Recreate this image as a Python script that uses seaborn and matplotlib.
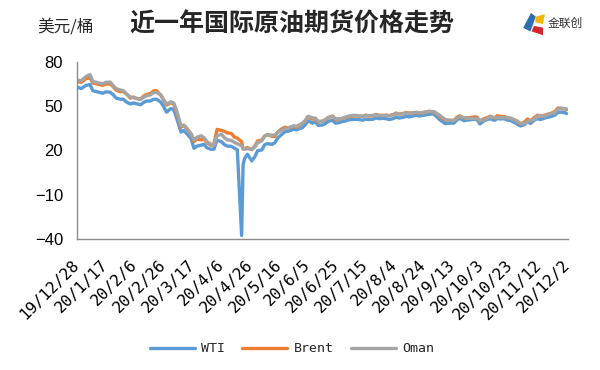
import matplotlib
matplotlib.use("Agg")
import matplotlib.pyplot as plt
from matplotlib.patches import Polygon
import numpy as np
import pandas as pd
import seaborn as sns

# ---------------- data ----------------
dates = [
    "2019-12-28", "2019-12-31", "2020-01-03", "2020-01-06", "2020-01-08", "2020-01-10",
    "2020-01-13", "2020-01-15", "2020-01-17", "2020-01-20", "2020-01-22", "2020-01-24",
    "2020-01-27", "2020-01-29", "2020-01-31", "2020-02-03", "2020-02-05", "2020-02-07",
    "2020-02-10", "2020-02-12", "2020-02-14", "2020-02-17", "2020-02-19", "2020-02-21",
    "2020-02-24", "2020-02-26", "2020-02-28", "2020-03-02", "2020-03-04", "2020-03-06",
    "2020-03-09", "2020-03-11", "2020-03-13", "2020-03-16", "2020-03-18", "2020-03-20",
    "2020-03-23", "2020-03-25", "2020-03-27", "2020-03-30", "2020-04-01", "2020-04-02",
    "2020-04-03", "2020-04-06", "2020-04-08", "2020-04-10", "2020-04-13", "2020-04-15",
    "2020-04-17", "2020-04-20", "2020-04-21", "2020-04-22", "2020-04-24", "2020-04-27",
    "2020-04-29", "2020-05-01", "2020-05-04", "2020-05-06", "2020-05-08", "2020-05-11",
    "2020-05-13", "2020-05-15", "2020-05-18", "2020-05-20", "2020-05-22", "2020-05-26",
    "2020-05-28", "2020-06-01", "2020-06-03", "2020-06-05", "2020-06-08", "2020-06-10",
    "2020-06-12", "2020-06-15", "2020-06-17", "2020-06-19", "2020-06-22", "2020-06-24",
    "2020-06-26", "2020-06-29", "2020-07-01", "2020-07-03", "2020-07-06", "2020-07-08",
    "2020-07-10", "2020-07-13", "2020-07-15", "2020-07-17", "2020-07-20", "2020-07-22",
    "2020-07-24", "2020-07-27", "2020-07-29", "2020-07-31", "2020-08-03", "2020-08-05",
    "2020-08-07", "2020-08-10", "2020-08-12", "2020-08-14", "2020-08-17", "2020-08-19",
    "2020-08-21", "2020-08-24", "2020-08-26", "2020-08-28", "2020-08-31", "2020-09-02",
    "2020-09-04", "2020-09-08", "2020-09-10", "2020-09-14", "2020-09-16", "2020-09-18",
    "2020-09-21", "2020-09-23", "2020-09-25", "2020-09-28", "2020-09-30", "2020-10-02",
    "2020-10-05", "2020-10-07", "2020-10-09", "2020-10-12", "2020-10-14", "2020-10-16",
    "2020-10-19", "2020-10-21", "2020-10-23", "2020-10-26", "2020-10-28", "2020-10-30",
    "2020-11-02", "2020-11-04", "2020-11-06", "2020-11-09", "2020-11-11", "2020-11-13",
    "2020-11-16", "2020-11-18", "2020-11-20", "2020-11-23", "2020-11-25", "2020-11-27",
    "2020-11-30", "2020-12-01",
]

wti = [
    63.0, 62.0, 64.0, 64.8, 60.5, 60.0, 59.3, 58.8, 59.8, 59.5, 57.8, 55.6,
    54.8, 54.8, 53.0, 51.5, 52.3, 51.8, 51.0, 52.5, 53.5, 53.6, 54.7, 54.8,
    52.8, 49.8, 46.0, 48.5, 47.6, 42.0, 32.5, 33.5, 31.5, 28.0, 21.5, 23.0,
    23.6, 24.2, 21.8, 20.8, 21.0, 24.5, 27.0, 26.0, 24.0, 23.0, 22.8, 21.5,
    20.5, -37.6, 10.0, 14.5, 17.5, 13.0, 15.5, 19.8, 20.4, 24.0, 24.7, 24.1,
    25.3, 28.5, 31.0, 32.8, 33.0, 34.4, 34.0, 35.4, 37.3, 40.2, 38.5, 39.6,
    37.0, 37.3, 38.2, 39.8, 40.5, 38.5, 38.8, 39.7, 40.0, 40.8, 41.0, 41.2,
    41.0, 40.5, 41.3, 41.0, 41.2, 42.0, 41.6, 41.8, 41.6, 41.0, 41.6, 42.6,
    42.0, 42.5, 43.2, 42.8, 43.5, 43.8, 43.4, 43.8, 44.3, 44.6, 44.8, 43.0,
    41.0, 38.2, 38.5, 38.6, 40.6, 41.8, 40.2, 40.6, 40.8, 41.2, 41.0, 38.0,
    40.2, 41.0, 41.5, 40.5, 41.6, 41.4, 41.5, 40.6, 40.4, 39.0, 37.8, 36.6,
    37.6, 39.8, 38.3, 40.8, 41.6, 41.0, 42.0, 42.5, 43.0, 44.0, 45.8, 46.0,
    45.6, 45.0,
]

brent = [
    66.8, 66.3, 68.6, 69.2, 65.8, 65.3, 64.6, 64.2, 65.0, 65.2, 63.3, 61.0,
    59.8, 60.2, 58.6, 55.5, 56.2, 55.4, 54.8, 56.8, 58.0, 58.6, 60.4, 60.6,
    57.5, 54.0, 50.8, 52.4, 51.6, 46.0, 35.8, 37.0, 35.2, 31.0, 26.0, 27.8,
    27.2, 27.8, 25.3, 23.4, 25.0, 30.0, 34.3, 33.6, 33.0, 32.0, 31.5, 29.0,
    28.4, 26.0, 21.0, 21.3, 22.0, 20.5, 22.8, 26.4, 27.2, 29.7, 30.9, 29.6,
    29.5, 32.5, 34.8, 35.8, 35.3, 36.4, 35.8, 38.3, 40.0, 42.8, 41.2, 41.9,
    39.2, 39.9, 40.9, 42.4, 43.3, 40.8, 41.2, 41.9, 42.3, 43.0, 43.3, 43.6,
    43.4, 43.0, 44.0, 43.4, 43.6, 44.5, 43.8, 43.7, 44.0, 43.6, 44.4, 45.4,
    44.7, 45.2, 45.8, 45.2, 45.7, 45.8, 45.0, 45.9, 46.2, 46.6, 46.2, 45.0,
    43.2, 40.5, 40.6, 40.4, 42.4, 43.5, 42.0, 42.2, 42.2, 42.8, 42.7, 40.0,
    41.6, 42.3, 43.2, 42.0, 43.5, 43.2, 43.0, 42.2, 42.0, 40.8, 39.6, 38.0,
    39.4, 41.4, 40.0, 42.6, 44.0, 43.2, 44.0, 44.6, 45.2, 46.4, 48.8, 48.5,
    48.0, 47.6,
]

oman = [
    67.8, 67.3, 70.0, 71.5, 66.8, 66.3, 65.6, 65.3, 66.2, 66.4, 64.2, 62.0,
    61.0, 60.6, 58.6, 56.2, 56.0, 55.2, 54.6, 56.0, 57.0, 57.8, 59.2, 59.4,
    57.8, 54.5, 51.5, 53.0, 52.2, 47.0, 36.8, 37.2, 34.5, 31.5, 27.0, 29.0,
    30.0, 28.6, 26.0, 24.0, 23.6, 27.5, 30.0, 31.0, 28.8, 27.3, 26.8, 25.4,
    24.6, 23.2, 21.5, 20.8, 21.2, 20.8, 22.2, 25.2, 26.6, 30.0, 30.6, 30.4,
    30.5, 32.2, 33.8, 34.6, 35.2, 36.8, 36.3, 38.3, 40.3, 43.2, 42.2, 41.8,
    39.8, 39.8, 40.8, 42.2, 43.2, 41.6, 41.2, 41.8, 42.7, 43.3, 43.8, 43.8,
    43.3, 43.2, 43.8, 43.7, 43.8, 44.3, 43.8, 43.8, 43.8, 43.4, 44.2, 44.8,
    44.8, 44.8, 45.4, 45.4, 45.4, 45.9, 45.5, 45.6, 46.0, 46.4, 46.4, 45.2,
    44.0, 41.0, 40.4, 40.3, 41.8, 42.8, 42.3, 41.8, 41.8, 41.8, 41.8, 40.3,
    40.8, 41.8, 42.8, 42.3, 42.3, 42.3, 42.3, 42.3, 41.8, 40.8, 39.8, 38.3,
    38.3, 39.8, 40.3, 41.3, 43.3, 43.8, 43.3, 44.3, 44.8, 45.8, 47.8, 48.8,
    48.3, 48.2,
]

series_names = ["WTI", "Brent", "Oman"]
series_colors = ["#5B9BD5", "#ED7D31", "#A5A5A5"]

tick_labels = [
    "19/12/28", "20/1/17", "20/2/6", "20/2/26", "20/3/17", "20/4/6", "20/4/26",
    "20/5/16", "20/6/5", "20/6/25", "20/7/15", "20/8/4", "20/8/24", "20/9/13",
    "20/10/3", "20/10/23", "20/11/12", "20/12/2",
]
y_ticks = [-40, -10, 20, 50, 80]

title_text = "近一年国际原油期货价格走势"
unit_text = "美元/桶"

# ---------------- frame ----------------
dt = pd.to_datetime(dates)
df = pd.DataFrame({"date": list(dt) * 3,
                   "value": wti + brent + oman,
                   "series": sum([[n] * len(dt) for n in series_names], [])})

sns.set_theme(style="white")
plt.rcParams["font.family"] = ["Liberation Sans", "Noto Sans CJK SC", "DejaVu Sans"]

fig = plt.figure(figsize=(6.0, 3.7), dpi=100)
ax = fig.add_axes([77 / 600, 1 - 239 / 370, (568 - 77) / 600, (239 - 62) / 370])

sns.lineplot(data=df, x="date", y="value", hue="series", hue_order=series_names,
             palette=dict(zip(series_names, series_colors)), linewidth=2.4,
             ax=ax, legend=False, estimator=None, sort=False)

# axes styling
tick_dates = pd.to_datetime([pd.Timestamp("2019-12-28") + pd.Timedelta(days=20 * i)
                             for i in range(len(tick_labels))])
ax.set_xlim(tick_dates[0], tick_dates[-1])
ax.set_xticks(tick_dates)
ax.set_xticklabels(tick_labels, rotation=45, ha="right", va="center",
                   rotation_mode="anchor", family="DejaVu Sans Mono", fontsize=11.5)
ax.set_ylim(-40, 80)
ax.set_yticks(y_ticks)
ax.set_yticklabels([str(v).replace("-", "\u2212") for v in y_ticks], fontsize=12)
ax.set_xlabel("")
ax.set_ylabel("")
for s in ["top", "right"]:
    ax.spines[s].set_visible(False)
for s in ["left", "bottom"]:
    ax.spines[s].set_color("#8c8c8c")
    ax.spines[s].set_linewidth(1.0)
ax.tick_params(axis="both", direction="in", length=5, width=1.0, color="#8c8c8c",
               labelcolor="black")
ax.tick_params(axis="x", pad=17)
ax.tick_params(axis="y", pad=10)
ax.set_facecolor("white")

# legend
handles = [plt.Line2D([], [], color=c, lw=2.4) for c in series_colors]
fig.legend(handles, series_names, loc="center", bbox_to_anchor=(0.487, 0.057),
           ncol=3, frameon=False, handlelength=3.4, handletextpad=0.5,
           columnspacing=1.3, prop={"family": "DejaVu Sans Mono", "size": 9.5})

# titles
fig.text(0.486, 0.935, title_text, ha="center", va="center", fontsize=18,
         fontweight="bold", family=["Noto Sans CJK SC"])
fig.text(0.062, 0.927, unit_text, ha="left", va="center", fontsize=12,
         family=["Noto Sans CJK SC"])

# logo approximation
fig.text(0.913, 0.938, "金联创", ha="left", va="center", fontsize=8.5,
         color="#333333", family=["Noto Sans CJK SC"])
logo_shapes = [
    ([(0.872, 0.925), (0.885, 0.965), (0.893, 0.955), (0.884, 0.915)], "#2E6DB4"),
    ([(0.886, 0.915), (0.905, 0.905), (0.905, 0.925), (0.890, 0.930)], "#D9262C"),
    ([(0.893, 0.955), (0.908, 0.962), (0.905, 0.935), (0.892, 0.940)], "#F2B705"),
]
for pts, col in logo_shapes:
    fig.patches.append(Polygon(pts, closed=True, transform=fig.transFigure,
                               facecolor=col, edgecolor="none"))

fig.savefig("out.png", dpi=100, facecolor="white")
